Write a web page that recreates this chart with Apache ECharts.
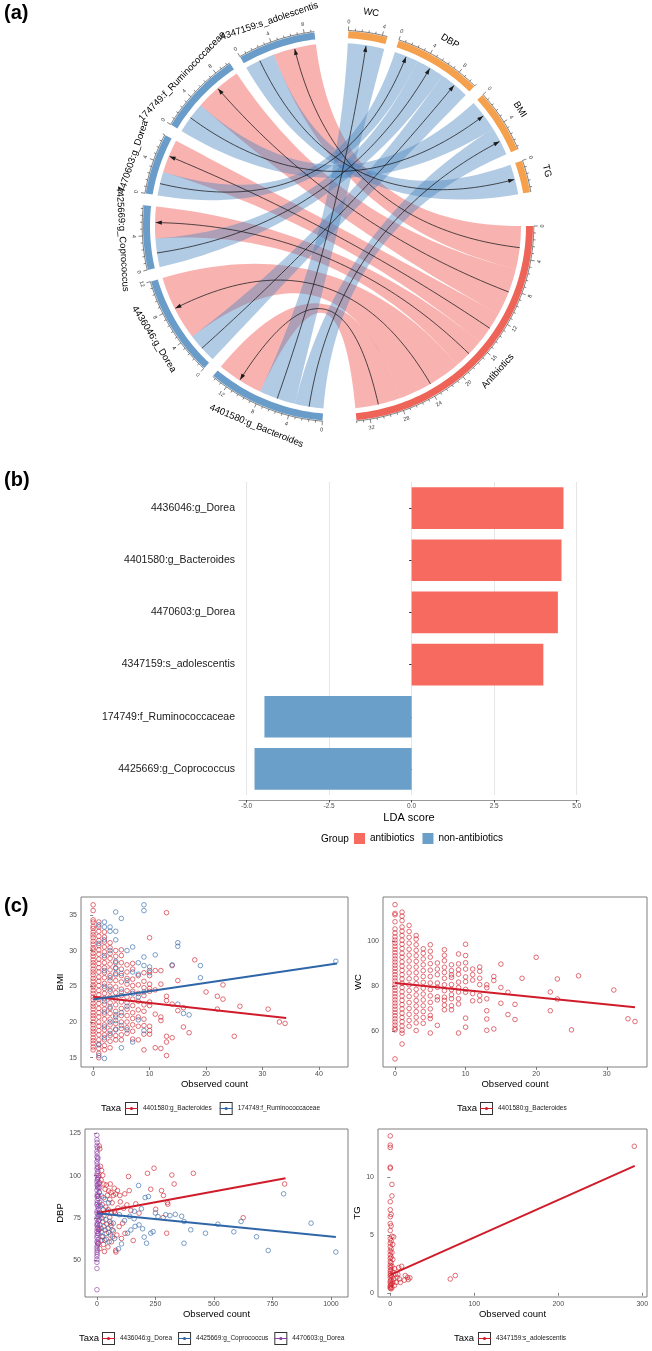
<!DOCTYPE html>
<html>
<head>
<meta charset="utf-8">
<script src="https://cdn.jsdelivr.net/npm/echarts@6/dist/echarts.min.js"></script>
<style>
html, body { margin: 0; padding: 0; background: #fff; }
#chart { width: 652px; height: 1351px; }
</style>
</head>
<body>
<div id="chart"></div>
<script>
// ---------- (a) chord diagram data ----------
const sectorNames = ['Antibiotics', '4401580:g_Bacteroides', '4436046:g_Dorea', '4425669:g_Coprococcus',
  '4470603:g_Dorea', '174749:f_Ruminococcaceae', '4347159:s_adolescentis', 'WC', 'DBP', 'BMI', 'TG'];
const sectorGroup = ['antibiotics', 'taxa', 'taxa', 'taxa', 'taxa', 'taxa', 'taxa', 'trait', 'trait', 'trait', 'trait'];
const sectorGapAfter = [10, 3.5, 3.5, 3.5, 3.5, 3.5, 10, 3.5, 3.5, 3.5, 10];

const linkSource = ['Antibiotics', 'Antibiotics', 'Antibiotics', 'Antibiotics', 'Antibiotics', 'Antibiotics',
  '4401580:g_Bacteroides', '4401580:g_Bacteroides', '4436046:g_Dorea', '4425669:g_Coprococcus',
  '4470603:g_Dorea', '174749:f_Ruminococcaceae', '4347159:s_adolescentis'];
const linkTarget = ['4401580:g_Bacteroides', '4436046:g_Dorea', '4425669:g_Coprococcus', '4470603:g_Dorea',
  '174749:f_Ruminococcaceae', '4347159:s_adolescentis', 'WC', 'BMI', 'DBP', 'DBP', 'DBP', 'BMI', 'TG'];
const linkValue = [5.8, 8.2, 4.0, 4.2, 6.0, 5.4, 4.6, 3.6, 3.8, 3.6, 3.0, 4.0, 3.8];
// order in which links sit inside a sector (by partner)
const slotRank = ['TG', 'BMI', 'DBP', 'WC', 'Antibiotics', '4347159:s_adolescentis', '174749:f_Ruminococcaceae',
  '4470603:g_Dorea', '4425669:g_Coprococcus', '4436046:g_Dorea', '4401580:g_Bacteroides'];

// ---------- (b) LDA data ----------
const ldaTaxa = ['4436046:g_Dorea', '4401580:g_Bacteroides', '4470603:g_Dorea', '4347159:s_adolescentis',
  '174749:f_Ruminococcaceae', '4425669:g_Coprococcus'];
const ldaScore = [4.6, 4.54, 4.43, 3.99, -4.46, -4.76];
const ldaGroup = ['antibiotics', 'antibiotics', 'antibiotics', 'antibiotics', 'non-antibiotics', 'non-antibiotics'];
const ldaTicks = [-5, -2.5, 0, 2.5, 5];

// ---------- (c) scatter data ----------
const bmiBacteroidesCols = [
  [0, [36.4, 35.6, 34.3, 34.0, 33.4, 33.1, 32.6, 32.2, 31.8, 31.3, 30.9, 30.4, 30.1, 29.6, 29.2, 28.7, 28.3, 27.9, 27.4, 27.0, 26.6, 26.1, 25.7, 25.2, 24.9, 24.4, 24.0, 23.5, 23.1, 22.6, 22.2, 21.8, 21.3, 20.9, 20.5, 20.0, 19.6, 19.1, 18.7, 18.3, 17.8, 17.4, 17.0, 16.5, 16.1]],
  [1, [34.0, 33.3, 32.7, 32.0, 31.4, 30.7, 30.1, 29.5, 28.8, 28.2, 27.6, 27.0, 26.3, 25.7, 25.1, 24.4, 23.8, 23.2, 22.6, 21.9, 21.3, 20.7, 20.0, 19.4, 18.8, 18.2, 17.5, 16.9, 16.3, 15.6, 15.0]],
  [2, [32.6, 31.9, 31.2, 30.5, 29.8, 29.0, 28.3, 27.6, 26.9, 26.2, 25.4, 24.7, 24.0, 23.3, 22.5, 21.8, 21.1, 20.4, 19.6, 18.9, 18.2, 17.5, 16.7, 16.1]],
  [3, [31.1, 30.4, 29.6, 28.9, 28.1, 27.3, 26.5, 25.8, 25.0, 24.3, 23.5, 22.7, 21.9, 21.2, 20.4, 19.6, 18.8, 18.1, 17.3, 16.4]],
  [4, [30.0, 29.2, 28.3, 27.5, 26.6, 25.8, 24.9, 24.1, 23.2, 22.4, 21.5, 20.7, 19.8, 19.0, 18.1, 17.5]],
  [5, [30.1, 29.3, 28.3, 27.4, 26.5, 25.6, 24.6, 23.7, 22.8, 21.9, 20.9, 20.0, 19.1, 18.2, 17.5]],
  [6, [28.0, 27.0, 26.1, 25.3, 24.4, 23.5, 22.7, 21.8, 20.9, 20.0, 19.2, 18.4]],
  [7, [28.2, 27.4, 26.0, 25.1, 24.3, 23.2, 22.3, 21.3, 20.5, 19.6, 18.7, 17.6]],
  [8, [26.5, 25.2, 24.0, 22.9, 21.7, 20.7, 19.4, 17.5]],
  [9, [26.9, 25.7, 24.8, 23.7, 22.4, 21.5, 20.4, 19.5, 18.3, 16.1]],
  [10, [31.8, 27.2, 26.5, 25.3, 24.7, 24.3, 22.8, 22.3, 19.4, 18.8, 18.3]],
  [11, [27.2, 24.5, 21.1, 16.4]],
  [12, [27.2, 25.3, 20.7, 20.2, 16.3]],
  [13, [35.3, 23.6, 23.0, 18.0, 17.2, 15.3]],
  [14, [27.9, 22.5, 17.8]],
  [15, [25.8, 21.6]],
  [16, [22.0, 19.3]],
  [17, [18.5]],
  [18, [28.7]],
  [20, [24.2]],
  [22, [23.6, 21.8]],
  [23, [25.2, 23.2]],
  [25, [18.0]],
  [26, [22.2]],
  [31, [21.8]],
  [33, [20.0]],
  [34, [19.8]]
];
const bmiRuminoCols = [
  [1, [33.6, 31.0, 16.8, 15.3]],
  [2, [34.0, 33.3, 31.5, 29.3, 27.2, 25.0, 22.9, 21.4, 19.3, 17.8, 14.9]],
  [3, [33.3, 32.7, 30.0, 26.2, 24.6, 22.1, 20.0, 18.4]],
  [4, [35.4, 32.7, 31.5, 28.5, 27.6, 26.8, 21.0, 20.2, 18.9]],
  [5, [34.5, 26.8, 24.2, 21.3, 19.5, 16.4]],
  [6, [30.0, 25.8, 22.2, 18.9]],
  [7, [30.5, 27.0, 24.0, 17.2]],
  [8, [28.3, 26.7, 23.5, 20.3]],
  [9, [36.4, 35.6, 29.1, 27.9, 24.2, 18.8]],
  [10, [27.7, 26.9]],
  [11, [29.4]],
  [14, [28.0]],
  [15, [31.1, 30.6, 22.5]],
  [16, [21.2]],
  [17, [21.0]],
  [19, [27.9, 26.2]],
  [43, [28.5]]
];
const wcBacteroidesCols = [
  [0, [116.1, 112.2, 111.6, 108.5, 105.3, 103.5, 101.8, 100.4, 99.0, 97.6, 96.2, 94.8, 93.4, 92.0, 90.6, 89.2, 87.8, 86.4, 85.0, 83.6, 82.2, 80.8, 79.4, 78.0, 76.6, 75.2, 73.8, 72.4, 71.0, 69.6, 68.2, 66.8, 65.4, 64.0, 62.6, 61.2, 60.5, 47.6]],
  [1, [112.8, 111.0, 109.0, 106.2, 104.3, 102.4, 100.3, 98.5, 96.6, 94.5, 92.8, 90.7, 88.8, 86.9, 85.0, 83.1, 81.2, 79.3, 77.4, 75.5, 73.6, 71.7, 69.8, 67.9, 66.0, 64.1, 62.2, 60.3, 59.0, 54.2]],
  [2, [106.9, 104.2, 101.6, 99.0, 96.3, 93.7, 91.1, 88.4, 85.8, 83.2, 80.5, 77.9, 75.3, 72.6, 70.0, 67.4, 64.7, 62.1]],
  [3, [102.4, 100.8, 98.3, 95.8, 93.4, 90.9, 88.4, 85.9, 83.4, 81.0, 78.5, 76.0, 73.5, 71.1, 68.6, 66.1, 63.6, 60.2]],
  [4, [96.5, 94.5, 92.0, 89.4, 86.8, 84.2, 81.6, 79.0, 76.4, 73.8, 71.2, 68.6, 66.0, 63.4]],
  [5, [98.3, 95.4, 92.8, 89.9, 87.0, 84.2, 81.3, 78.4, 75.6, 72.7, 69.8, 66.9, 65.5, 59.1]],
  [6, [90.2, 87.5, 85.0, 81.3, 79.4, 75.2, 73.8, 62.5]],
  [7, [96.1, 93.6, 91.2, 88.3, 86.0, 83.4, 80.5, 77.9, 75.0, 73.6, 71.5, 69.4]],
  [8, [89.4, 86.8, 84.9, 83.8, 80.6, 78.4, 76.1, 74.3, 71.2, 69.4]],
  [9, [94.2, 89.8, 87.2, 85.2, 81.7, 79.3, 77.3, 74.3, 72.0, 59.1]],
  [10, [98.5, 93.5, 90.3, 87.5, 84.0, 81.9, 78.5, 77.2, 65.7, 61.7]],
  [11, [87.5, 85.0, 82.6, 76.6, 73.4]],
  [12, [88.4, 86.5, 83.4, 80.6, 75.8, 73.5]],
  [13, [80.5, 79.2, 74.3, 69.0, 65.3, 60.3]],
  [14, [84.2, 82.4, 60.9]],
  [15, [89.7, 79.3, 72.3]],
  [16, [77.2, 67.3]],
  [17, [71.8, 65.1]],
  [18, [83.4]],
  [20, [92.7]],
  [22, [77.3, 69.0]],
  [23, [83.1, 74.2]],
  [25, [60.5]],
  [26, [84.5]],
  [31, [78.2]],
  [33, [65.4]],
  [34, [64.2]]
];
const dbpDorea4436046 = [[10, 117.5], [12, 115.8], [15, 105.5], [20, 103], [25, 100.2], [8, 100], [18, 97.5], [10, 96],
  [30, 95], [12, 93], [40, 94.5], [35, 92], [50, 91], [60, 90], [45, 88.5], [5, 88], [28, 87], [55, 86], [70, 88.4],
  [80, 89.2], [65, 84], [22, 83], [38, 81.5], [48, 80], [75, 79], [90, 81], [100, 84.6], [15, 78], [30, 76.5],
  [55, 75.5], [10, 74], [25, 73], [42, 71.5], [60, 70.5], [18, 69], [8, 68], [35, 68], [50, 66.5], [70, 67.5],
  [85, 65], [22, 64], [20, 62], [40, 62.5], [62, 61], [6, 60], [28, 59.5], [47, 58], [12, 57], [80, 56], [32, 55.3],
  [110, 72], [95, 70], [120, 66], [105, 63], [135, 99.5], [138, 91.2], [216, 101.4], [244, 104.4], [320, 100.4],
  [412, 101.4], [330, 95.1], [276, 91.2], [284, 88.3], [301, 84.2], [303, 83.2], [251, 80.2], [283, 75.3],
  [625, 75.2], [802, 95.1], [298, 66.1], [155, 61.8], [81, 55], [67, 64], [119, 89.3], [98, 88.3], [88, 91.2],
  [74, 92.6], [57, 95.1], [128, 82.8], [166, 83.4], [180, 77.9], [145, 79.5], [230, 92], [114, 80.8], [78, 77.9],
  [60, 72]];
const dbpCoprococcus = [[10, 90], [20, 88], [35, 86], [50, 84], [15, 82], [28, 80], [45, 79], [62, 78], [8, 76],
  [22, 75], [38, 74], [55, 73], [70, 72], [12, 71], [30, 70], [48, 69], [65, 68], [18, 67], [40, 66], [58, 65],
  [25, 64], [75, 63], [33, 62], [52, 61], [798, 89.3], [915, 72], [1021, 55], [732, 55.9], [682, 64], [616, 73],
  [585, 66.9], [517, 71.4], [464, 66.1], [401, 68.1], [362, 76.1], [372, 73], [372, 60.2], [335, 77.2], [312, 76.5],
  [294, 77], [261, 75.9], [220, 87.7], [206, 87.1], [178, 94.2], [212, 60.2], [202, 63.8], [195, 68.7], [230, 66.1],
  [163, 70.1], [159, 74.6], [131, 66.1], [105, 59.8], [92, 56.9], [145, 68], [240, 67], [118, 73.5], [180, 71],
  [96, 77], [140, 76], [250, 78], [190, 80.5], [160, 79]];
const dbpDorea4470603 = [[0, 123.9], [0, 121.2], [1, 119.6], [0, 117.5], [2, 116.3], [0, 114.4], [1, 113.0],
  [0, 111.2], [3, 109.8], [0, 108.3], [1, 106.9], [2, 105.2], [0, 104.0], [4, 102.6], [1, 101.3], [0, 100.1],
  [6, 99.0], [2, 97.6], [0, 96.4], [8, 95.2], [1, 94.0], [3, 92.8], [0, 91.5], [10, 90.3], [2, 89.1], [0, 87.9],
  [5, 86.6], [1, 85.4], [12, 84.2], [0, 83.0], [3, 81.8], [7, 80.5], [1, 79.3], [0, 78.1], [14, 76.9], [2, 75.7],
  [0, 74.4], [6, 73.2], [1, 72.0], [0, 70.8], [4, 69.6], [9, 68.3], [0, 67.1], [2, 65.9], [1, 64.7], [0, 63.4],
  [5, 62.2], [0, 61.0], [3, 59.8], [1, 58.6], [0, 57.3], [2, 56.1], [0, 54.9], [1, 53.7], [0, 52.4], [0, 50.6],
  [0, 48.9], [0, 45.3], [0, 32.8], [4, 110.5], [5, 104.8], [3, 98.2], [6, 93.1], [4, 88.0], [8, 82.5], [5, 77.2],
  [3, 71.4], [7, 66.0], [4, 60.5], [2, 94.8], [2, 84.0], [1, 68.8]];
const tgAdolescentis = [[0, 13.6], [0, 12.8], [0, 12.6], [0, 10.9], [0, 10.8], [2, 9.4], [2, 8.4], [0, 7.9], [0, 7.2],
  [1, 6.8], [0, 6.6], [0, 6.0], [1, 5.8], [0, 5.4], [2, 4.9], [4, 4.85], [0, 4.7], [1, 4.5], [0, 4.3], [3, 4.2],
  [0, 4.0], [1, 3.8], [0, 3.6], [2, 3.5], [0, 3.3], [1, 3.1], [0, 3.0], [3, 2.9], [0, 2.7], [1, 2.6], [0, 2.4],
  [2, 2.3], [0, 2.2], [5, 2.1], [1, 2.0], [0, 1.9], [3, 1.8], [0, 1.7], [6, 1.6], [1, 1.55], [0, 1.5], [2, 1.4],
  [8, 1.35], [0, 1.3], [4, 1.2], [1, 1.1], [0, 1.0], [3, 0.95], [7, 0.9], [0, 0.85], [2, 0.8], [1, 0.7], [0, 0.6],
  [5, 0.65], [0, 0.5], [2, 0.45], [0, 0.4], [1, 0.35], [10, 2.2], [13.5, 2.3], [17.9, 1.5], [20.6, 1.35],
  [23.4, 1.3], [21.4, 1.15], [16.7, 1.1], [11, 1.2], [9, 1.6], [12, 0.9], [71.4, 1.2], [77.4, 1.5], [290.5, 12.7]];

const bmiBacteroidesFit = [[0, 23.55], [34.2, 20.55]];
const bmiRuminoFit = [[0, 23.15], [43.2, 28.2]];
const wcBacteroidesFit = [[0, 81.3], [34, 70.5]];
const dbpDorea4436046Fit = [[0, 78.0], [806, 98.5]];
const dbpCoprococcusFit = [[0, 77.8], [1021, 63.9]];
const dbpDorea4470603Fit = [[0, 79.2], [14, 77.6]];
const tgAdolescentisFit = [[0, 1.55], [291, 11.0]];

// ---------- colours ----------
const RED = '#D01C2A', BLUE = '#2F66A8', PURPLE = '#8A3FA6';
const FONT = 'Liberation Sans, Arial, sans-serif';
const sectorColor = { antibiotics: '#EE6458', taxa: '#6A9CC9', trait: '#F5A04C' };

// ---------- chord layout (in angle-axis units = degrees) ----------
const sectorSize = sectorNames.map(n => linkValue.reduce((s, v, k) =>
  s + ((linkSource[k] === n || linkTarget[k] === n) ? v : 0), 0));
const degPerUnit = (360 - sectorGapAfter.reduce((a, b) => a + b, 0)) / sectorSize.reduce((a, b) => a + b, 0);
let cursor = 0;
const sectorLayout = sectorNames.map((n, i) => {
  const a0 = cursor, a1 = a0 + sectorSize[i] * degPerUnit;
  cursor = a1 + sectorGapAfter[i];
  return { a0, a1, size: sectorSize[i] };
});
const slot = {};
sectorNames.forEach((n, i) => {
  const touching = [];
  linkValue.forEach((v, k) => {
    if (linkSource[k] === n) touching.push({ k, end: 's', partner: linkTarget[k] });
    if (linkTarget[k] === n) touching.push({ k, end: 't', partner: linkSource[k] });
  });
  touching.sort((p, q) => slotRank.indexOf(p.partner) - slotRank.indexOf(q.partner));
  let pos = sectorLayout[i].a0;
  touching.forEach(t => {
    const w = linkValue[t.k] * degPerUnit;
    slot[t.k + t.end] = [pos, pos + w];
    pos += w;
  });
});

const RPX = 195;
const R_LINK = 183 / RPX, R_IN = 188 / RPX, R_OUT = 1, R_AXIS = 195.8 / RPX,
  R_MIN = 198 / RPX, R_MAJ = 199.8 / RPX, R_TLAB = 204.5 / RPX, R_NAME = 216 / RPX;

function pt(api, r, a) { const p = api.coord([r, a]); return [p[0], p[1]]; }
function arc(api, r, a0, a1) {
  const n = Math.max(2, Math.ceil(Math.abs(a1 - a0) / 1.2));
  const pts = [];
  for (let i = 0; i <= n; i++) pts.push(pt(api, r, a0 + (a1 - a0) * i / n));
  return pts;
}
function bez(p0, c, p1, n) {
  const pts = [];
  for (let i = 1; i < n; i++) {
    const t = i / n, u = 1 - t;
    pts.push([u * u * p0[0] + 2 * u * t * c[0] + t * t * p1[0], u * u * p0[1] + 2 * u * t * c[1] + t * t * p1[1]]);
  }
  return pts;
}
function textRot(a) {
  const t = ((a % 360) + 360) % 360;
  const deg = t >= 180 ? -(t + 90) : (90 - t);
  return deg * Math.PI / 180;
}

function renderSector(params, api) {
  const i = params.dataIndex, s = sectorLayout[i];
  const children = [];
  children.push({
    type: 'polygon', silent: true,
    shape: { points: arc(api, R_OUT, s.a0, s.a1).concat(arc(api, R_IN, s.a1, s.a0)) },
    style: { fill: sectorColor[sectorGroup[i]] }
  });
  children.push({
    type: 'polyline', silent: true, shape: { points: arc(api, R_AXIS, s.a0, s.a1) },
    style: { stroke: '#333', lineWidth: 0.6, fill: null }
  });
  for (let k = 0; k * 0.8 <= s.size + 1e-9; k++) {
    const a = s.a0 + k * 0.8 * degPerUnit;
    const major = k % 5 === 0;
    const p0 = pt(api, R_AXIS, a), p1 = pt(api, major ? R_MAJ : R_MIN, a);
    children.push({
      type: 'line', silent: true, shape: { x1: p0[0], y1: p0[1], x2: p1[0], y2: p1[1] },
      style: { stroke: '#333', lineWidth: 0.6 }
    });
    if (major) {
      const pl = pt(api, R_TLAB, a);
      children.push({
        type: 'text', silent: true, x: pl[0], y: pl[1], rotation: textRot(a),
        style: { text: String(k / 5 * 4), fontSize: 5.5, fill: '#333', fontFamily: FONT, align: 'center', verticalAlign: 'middle' }
      });
    }
  }
  const am = (s.a0 + s.a1) / 2, pn = pt(api, R_NAME, am);
  children.push({
    type: 'text', silent: true, x: pn[0], y: pn[1], rotation: textRot(am),
    style: { text: sectorNames[i], fontSize: 9.5, fill: '#000', fontFamily: FONT, align: 'center', verticalAlign: 'middle' }
  });
  return { type: 'group', children };
}

function renderRibbon(params, api) {
  const k = params.dataIndex;
  const s = slot[k + 's'], t = slot[k + 't'];
  const c = pt(api, 0, 0);
  const pA = arc(api, R_LINK, s[0], s[1]);
  const pB = arc(api, R_LINK, t[0], t[1]);
  const points = pA.concat(bez(pA[pA.length - 1], c, pB[0], 40), pB, bez(pB[pB.length - 1], c, pA[0], 40));
  const red = linkSource[k] === 'Antibiotics';
  return {
    type: 'polygon', silent: true, shape: { points },
    style: { fill: red ? 'rgba(242,104,100,0.5)' : 'rgba(72,132,190,0.42)' }
  };
}

function renderArrow(params, api) {
  const k = params.dataIndex;
  const s = slot[k + 's'], t = slot[k + 't'];
  const c = pt(api, 0, 0);
  const p0 = pt(api, R_LINK, (s[0] + s[1]) / 2), p1 = pt(api, R_LINK - 0.004, (t[0] + t[1]) / 2);
  const dx = p1[0] - c[0], dy = p1[1] - c[1], len = Math.hypot(dx, dy);
  const ux = dx / len, uy = dy / len;
  const b = [p1[0] - ux * 6, p1[1] - uy * 6];
  return {
    type: 'group', children: [
      { type: 'polyline', silent: true, shape: { points: [p0].concat(bez(p0, c, p1, 60), [p1]) }, style: { stroke: '#1a1a1a', lineWidth: 0.75, fill: null } },
      { type: 'polygon', silent: true, shape: { points: [p1, [b[0] - uy * 2.1, b[1] + ux * 2.1], [b[0] + uy * 2.1, b[1] - ux * 2.1]] }, style: { fill: '#1a1a1a' } }
    ]
  };
}

// ---------- helpers for (c) ----------
const flatCols = cols => cols.flatMap(([x, ys]) => ys.map(y => [x, y]));
const keyIcon = 'path://M0,0L0.01,0L0,0.01Z M13,13L12.99,13L13,12.99Z M0,5.9H13V7.1H0Z M4.9,6.5A1.6,1.6 0 1 1 8.1,6.5A1.6,1.6 0 1 1 4.9,6.5Z';
const frameIcon = 'path://M0,0H13V13H0Z M1,1V12H12V1Z';
const tickLabel = { fontSize: 7, color: '#4d4d4d', fontFamily: FONT, margin: 4, formatter: v => String(v) };
const tickStyle = { show: true, length: 3, lineStyle: { color: '#4d4d4d', width: 0.7 } };

function sAxis(grid, range, ticks, name, gap) {
  return {
    type: 'value', gridIndex: grid, min: range[0], max: range[1],
    name, nameLocation: 'middle', nameGap: gap,
    nameTextStyle: { fontSize: 9.5, color: '#000', fontFamily: FONT },
    axisLine: { show: false },
    axisTick: Object.assign({ customValues: ticks }, tickStyle),
    axisLabel: Object.assign({ customValues: ticks }, tickLabel),
    splitLine: { show: false }
  };
}
function pts(name, data, color, xi) {
  return {
    type: 'scatter', name, xAxisIndex: xi, yAxisIndex: xi, data, symbol: 'circle', symbolSize: 4.6,
    itemStyle: { color: 'rgba(0,0,0,0)', borderColor: color, borderWidth: 0.9, opacity: 0.7 },
    silent: true, z: 2
  };
}
function fit(name, data, color, xi) {
  return {
    type: 'line', name, xAxisIndex: xi, yAxisIndex: xi, data, showSymbol: false, symbol: 'circle',
    lineStyle: { color, width: 2 }, itemStyle: { color }, silent: true, z: 4
  };
}
function keyLegends(left, top, names, gap) {
  const base = {
    left, top, padding: 0, itemWidth: 13, itemHeight: 13, itemGap: gap, selectedMode: false
  };
  const frameStyle = { color: '#333', borderWidth: 0 };
  return [
    Object.assign({}, base, {
      icon: frameIcon, itemStyle: frameStyle,
      data: names.map(name => ({ name, itemStyle: frameStyle })),
      textStyle: { fontSize: 6.5, color: 'rgba(0,0,0,0)', fontFamily: FONT }
    }),
    Object.assign({}, base, {
      icon: keyIcon, itemStyle: { borderWidth: 0 }, data: names,
      textStyle: { fontSize: 6.5, color: '#1a1a1a', fontFamily: FONT }
    })
  ];
}
const txt = (text, left, top, size, bold) => ({
  text, left, top, padding: 0,
  textStyle: { fontSize: size, fontWeight: bold ? 'bold' : 'normal', color: '#000', fontFamily: FONT }
});

const chart = echarts.init(document.getElementById('chart'), null, { renderer: 'canvas' });

const option = {
  animation: false,
  backgroundColor: '#fff',
  title: [
    txt('(a)', 4, 3, 20, true),
    txt('(b)', 4, 470, 20, true),
    txt('(c)', 4, 896, 20, true),
    txt('Group', 321, 834, 10),
    txt('Taxa', 101, 1103, 9.5),
    txt('Taxa', 457, 1103, 9.5),
    txt('Taxa', 79, 1333, 9.5),
    txt('Taxa', 454, 1333, 9.5)
  ],
  legend: [
    {
      left: 354, top: 833, padding: 0, itemWidth: 11, itemHeight: 11, itemGap: 8, icon: 'rect', selectedMode: false,
      data: ['antibiotics', 'non-antibiotics'], textStyle: { fontSize: 10, color: '#000', fontFamily: FONT }
    },
    ...keyLegends(125, 1102, ['4401580:g_Bacteroides', '174749:f_Ruminococcaceae'], 8),
    ...keyLegends(480, 1102, ['4401580:g_Bacteroides '], 8),
    ...keyLegends(102, 1332, ['4436046:g_Dorea', '4425669:g_Coprococcus', '4470603:g_Dorea'], 6),
    ...keyLegends(478, 1332, ['4347159:s_adolescentis'], 8)
  ],
  polar: { center: [338, 226], radius: [0, RPX] },
  angleAxis: { type: 'value', min: 0, max: 360, startAngle: 0, clockwise: true, show: false },
  radiusAxis: { type: 'value', min: 0, max: 1, show: false },
  grid: [
    { left: 239, top: 482, width: 340, height: 313 },
    { left: 81, top: 897, width: 267, height: 170, show: true, borderColor: '#7f7f7f', borderWidth: 1 },
    { left: 383, top: 897, width: 264, height: 170, show: true, borderColor: '#7f7f7f', borderWidth: 1 },
    { left: 85, top: 1129, width: 263, height: 168, show: true, borderColor: '#7f7f7f', borderWidth: 1 },
    { left: 378, top: 1129, width: 269, height: 168, show: true, borderColor: '#7f7f7f', borderWidth: 1 }
  ],
  xAxis: [
    {
      type: 'value', gridIndex: 0, min: -5.23, max: 5.07, offset: 5,
      name: 'LDA score', nameLocation: 'middle', nameGap: 12,
      nameTextStyle: { fontSize: 11, color: '#000', fontFamily: FONT },
      axisLine: { show: true, onZero: false, lineStyle: { color: '#9a9a9a', width: 1 } },
      axisTick: { show: true, length: 2.5, customValues: ldaTicks, lineStyle: { color: '#4d4d4d' } },
      axisLabel: { customValues: ldaTicks, fontSize: 6.5, color: '#4d4d4d', margin: 3, fontFamily: FONT, formatter: v => v.toFixed(1) },
      splitLine: { show: true, lineStyle: { color: '#e6e6e6', width: 1 } }
    },
    sAxis(1, [-2.15, 45.15], [0, 10, 20, 30, 40], 'Observed count', 12),
    sAxis(2, [-1.7, 35.7], [0, 10, 20, 30], 'Observed count', 12),
    sAxis(3, [-51, 1073], [0, 250, 500, 750, 1000], 'Observed count', 12),
    sAxis(4, [-14.6, 305.6], [0, 100, 200, 300], 'Observed count', 12)
  ],
  yAxis: [
    {
      type: 'category', gridIndex: 0, data: ldaTaxa, inverse: true,
      axisLine: { show: false },
      axisTick: { show: true, length: 2.5, alignWithLabel: true, lineStyle: { color: '#333' } },
      axisLabel: { fontSize: 10.5, color: '#1a1a1a', margin: 4, fontFamily: FONT }
    },
    sAxis(1, [13.7, 37.5], [15, 20, 25, 30, 35], 'BMI', 14),
    sAxis(2, [44, 119.5], [60, 80, 100], 'WC', 16),
    sAxis(3, [28.5, 127.5], [50, 75, 100, 125], 'DBP', 17),
    sAxis(4, [-0.36, 14.2], [0, 5, 10], 'TG', 12)
  ],
  series: [
    {
      type: 'bar', name: 'antibiotics', xAxisIndex: 0, yAxisIndex: 0, stack: 'lda', barWidth: '80%',
      data: ldaScore.map((v, i) => ldaGroup[i] === 'antibiotics' ? v : null),
      itemStyle: { color: '#F76A60' }, silent: true
    },
    {
      type: 'bar', name: 'non-antibiotics', xAxisIndex: 0, yAxisIndex: 0, stack: 'lda', barWidth: '80%',
      data: ldaScore.map((v, i) => ldaGroup[i] === 'non-antibiotics' ? v : null),
      itemStyle: { color: '#6A9FCA' }, silent: true
    },
    {
      type: 'custom', name: 'ribbons', coordinateSystem: 'polar', renderItem: renderRibbon,
      data: linkValue.map((v, k) => [1, k]), z: 2, silent: true
    },
    {
      type: 'custom', name: 'arrows', coordinateSystem: 'polar', renderItem: renderArrow,
      data: linkValue.map((v, k) => [1, k]), z: 3, silent: true
    },
    {
      type: 'custom', name: 'sectors', coordinateSystem: 'polar', renderItem: renderSector,
      data: sectorNames.map((n, i) => [1, i]), z: 3, silent: true
    },
    // regression lines first so the legends pick up their colour
    fit('4401580:g_Bacteroides', bmiBacteroidesFit, RED, 1),
    fit('174749:f_Ruminococcaceae', bmiRuminoFit, BLUE, 1),
    fit('4401580:g_Bacteroides ', wcBacteroidesFit, RED, 2),
    fit('4436046:g_Dorea', dbpDorea4436046Fit, RED, 3),
    fit('4425669:g_Coprococcus', dbpCoprococcusFit, BLUE, 3),
    fit('4470603:g_Dorea', dbpDorea4470603Fit, PURPLE, 3),
    fit('4347159:s_adolescentis', tgAdolescentisFit, RED, 4),
    pts('4401580:g_Bacteroides', flatCols(bmiBacteroidesCols), RED, 1),
    pts('174749:f_Ruminococcaceae', flatCols(bmiRuminoCols), BLUE, 1),
    pts('4401580:g_Bacteroides ', flatCols(wcBacteroidesCols), RED, 2),
    pts('4436046:g_Dorea', dbpDorea4436046, RED, 3),
    pts('4425669:g_Coprococcus', dbpCoprococcus, BLUE, 3),
    pts('4470603:g_Dorea', dbpDorea4470603, PURPLE, 3),
    pts('4347159:s_adolescentis', tgAdolescentis, RED, 4)
  ]
};
chart.setOption(option);
</script>
</body>
</html>
